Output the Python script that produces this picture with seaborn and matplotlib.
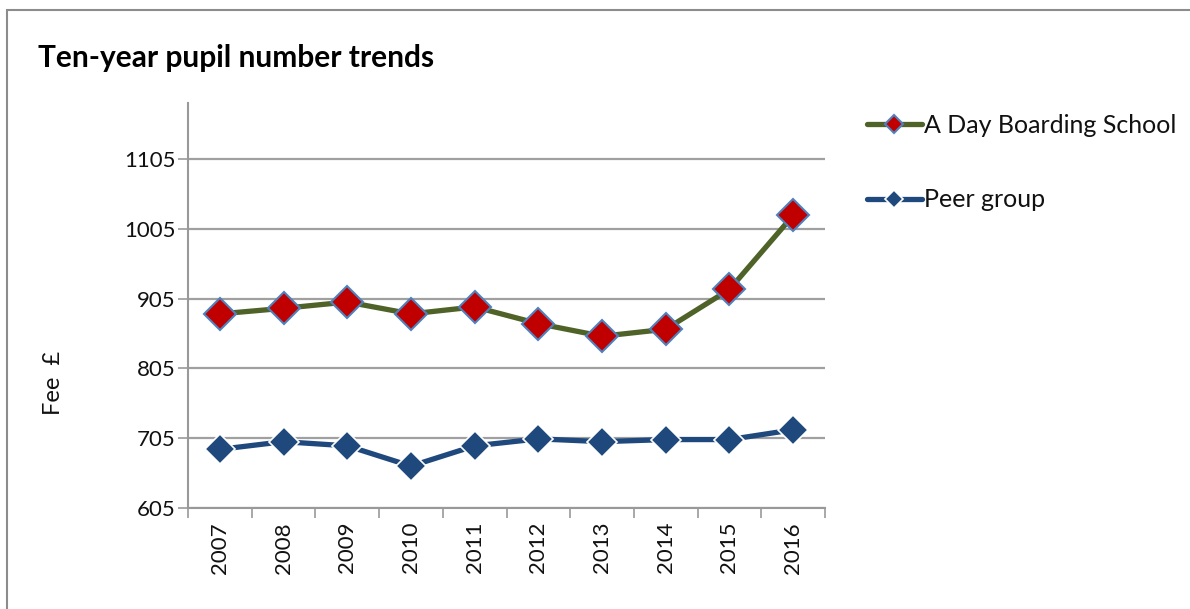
import numpy as np
import pandas as pd
import matplotlib
matplotlib.use('Agg')
import matplotlib.pyplot as plt
import seaborn as sns
from matplotlib.patches import Rectangle

# data
years = ['2007', '2008', '2009', '2010', '2011', '2012', '2013', '2014', '2015', '2016']
school = [883, 891, 900, 883, 893, 869, 851, 861, 918, 1024]
peer = [689, 700, 694, 665, 694, 704, 700, 703, 703, 717]
yticks = [605, 705, 805, 905, 1005, 1105]

sns.set_style('white')
plt.rcParams['font.family'] = ['Lato', 'DejaVu Sans']

fig = plt.figure(figsize=(11.9, 6.09), dpi=100)
ax = fig.add_axes([188 / 1190, 1 - 508 / 609, (825 - 188) / 1190, (508 - 103) / 609])

x = np.arange(len(years))
sns.lineplot(x=x, y=school, ax=ax, color='#4F6228', linewidth=3.8,
             marker='D', markersize=16, markerfacecolor='#C00000',
             markeredgecolor='#4F81BD', markeredgewidth=1.5,
             label='A Day Boarding School')
sns.lineplot(x=x, y=peer, ax=ax, color='#1F497D', linewidth=3.8,
             marker='D', markersize=15, markerfacecolor='#1F497D',
             markeredgecolor='white', markeredgewidth=1.2,
             label='Peer group')

ax.set_xlim(-0.5, len(years) - 0.5)
ax.set_ylim(605, 1185)
ax.set_yticks(yticks)
ax.set_yticklabels([str(v) for v in yticks], fontsize=16, color='#111111')
ax.set_xticks(x)
ax.set_xticklabels(years, rotation=90, fontsize=16, color='#111111')
ax.set_xticks(np.arange(-0.5, len(years)), minor=True)
ax.tick_params(axis='x', which='major', length=0, pad=10)
ax.tick_params(axis='x', which='minor', length=7, color='#999999', width=1.2, bottom=True)
ax.tick_params(axis='y', length=7, color='#999999', width=1.2, left=True, pad=2)

ax.yaxis.grid(True, color='#A0A0A0', linewidth=1.6)
ax.xaxis.grid(False)
for s in ['top', 'right']:
    ax.spines[s].set_visible(False)
for s in ['left', 'bottom']:
    ax.spines[s].set_color('#999999')
    ax.spines[s].set_linewidth(1.5)

ax.set_ylabel('Fee  £', fontsize=17, color='#111111')
ax.yaxis.set_label_coords(-0.195, 0.31)
ax.set_xlabel('')

leg = ax.legend(loc='upper left', bbox_to_anchor=(1.05, 0.998), frameon=False,
                fontsize=18, labelspacing=2.06, handlelength=2.2, handletextpad=0.1,
                borderaxespad=0, markerscale=0.6)
for t in leg.get_texts():
    t.set_color('#111111')

fig.text(38 / 1190, 1 - 58 / 609, 'Ten-year pupil number trends', fontsize=21.5,
         fontweight='bold', va='center', ha='left', color='black')

fig.patches.append(Rectangle((7 / 1190, -0.1), 1.2, 1.1 - 10 / 609, transform=fig.transFigure,
                             fill=False, edgecolor='#8C8C8C', linewidth=1.5))

fig.savefig('out.png', dpi=100)
